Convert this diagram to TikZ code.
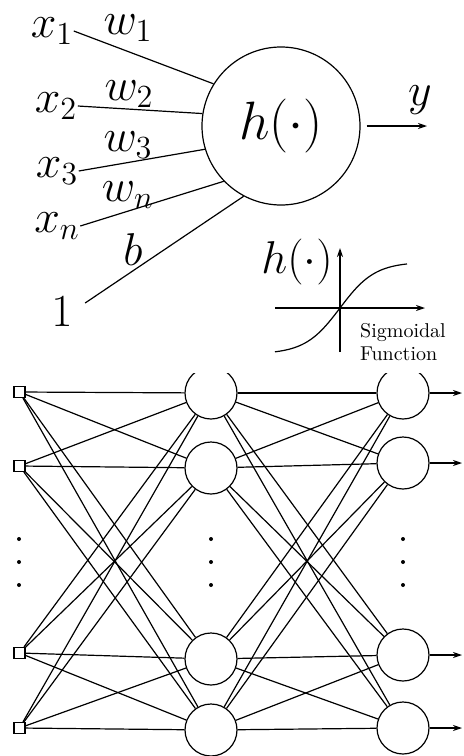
\documentclass[tikz,border=0pt]{standalone}
\usepackage{fix-cm}
\usepackage{amsmath}
\usetikzlibrary{arrows.meta,positioning}

\begin{document}
\begin{tikzpicture}[
  x=0.5pt, y=-0.5pt,
  line width=0.6pt,
  >={Stealth[length=4.5pt,width=3pt]},
  lbl/.style={font=\fontsize{23}{26}\selectfont, inner sep=0pt},
  neuron/.style={draw, circle, minimum size=79pt, inner sep=0pt,
                 font=\fontsize{27}{30}\selectfont},
  hcell/.style={draw, circle, minimum size=26pt, inner sep=0pt},
  inbox/.style={draw, rectangle, minimum size=5.5pt, inner sep=0pt},
  dotmark/.style={fill, circle, inner sep=0pt, minimum size=2pt},
  note/.style={font=\fontsize{10}{11.5}\selectfont, align=left, inner sep=0pt},
]
  \useasboundingbox (0,0) rectangle (464,756);

  % Single neuron
  \node[neuron] (h) at (281,126) {$h(\cdot)$};
  \node[lbl] (x1)  at (52,31)  {$x_1$};
  \node[lbl] (x2)  at (56,106) {$x_2$};
  \node[lbl] (x3)  at (57,171) {$x_3$};
  \node[lbl] (xn)  at (57,226) {$x_n$};
  \node[lbl] (one) at (62,312) {$1$};

  % Weights
  \node[lbl] (w1) at (128,28)  {$w_1$};
  \node[lbl] (w2) at (129,94)  {$w_2$};
  \node[lbl] (w3) at (128,145) {$w_3$};
  \node[lbl] (wn) at (128,195) {$w_n$};
  \node[lbl] (b)  at (133,250) {$b$};
  \node[lbl] (y)  at (420,100) {$y$};

  % Inputs into the neuron
  \draw (x1.east) -- (h.148);
  \draw (x2.east) -- (h.171);
  \draw (x3.east) -- (h.197);
  \draw (xn.east) -- (h.224);
  \draw ([shift={(12,-9)}]one.east) -- (h.242);
  \coordinate (yend) at (427,126);
  \draw[->, shorten <=3pt] (h) -- (yend);

  % Sigmoid sketch
  \node[lbl] (hs) at (297,262) {$h(\cdot)$};
  \coordinate (org) at (340,308);
  \coordinate (vlo) at (340,352);
  \coordinate (vhi) at (340,248);
  \coordinate (hlo) at (275,308);
  \coordinate (hhi) at (425,308);
  \draw[->] (vlo) -- (vhi);
  \draw[->] (hlo) -- (hhi);
  \draw plot[domain=-65:67, samples=50, smooth] ({340+\x},{308-46*tanh(\x/35)});
  \node[note] (sig) at (403,342) {Sigmoidal\\Function};

  % Network
  \begin{scope}
    \clip (0,373) rectangle (464,756);
    \foreach \i/\y in {1/392,2/466,3/653,4/728}
      \node[inbox] (i\i) at (19.5,\y) {};
    \foreach \i/\y in {1/393,2/468,3/659,4/730}
      \node[hcell] (m\i) at (211,\y) {};
    \foreach \i/\y in {1/393,2/463,3/655,4/728}
      \node[hcell] (o\i) at (403,\y) {};
    \foreach \a in {1,...,4}
      \foreach \b in {1,...,4} {
        \draw (i\a) -- (m\b);
        \draw (m\a) -- (o\b);
      }
    \coordinate (rim) at (462,0);
    \foreach \i in {1,...,4}
      \draw[->] (o\i.east) -- (o\i.east -| rim);
    \foreach \x in {19,211,403}
      \foreach \y in {539,562,585}
        \node[dotmark] (dot\x-\y) at (\x,\y) {};
  \end{scope}
\end{tikzpicture}
\end{document}
